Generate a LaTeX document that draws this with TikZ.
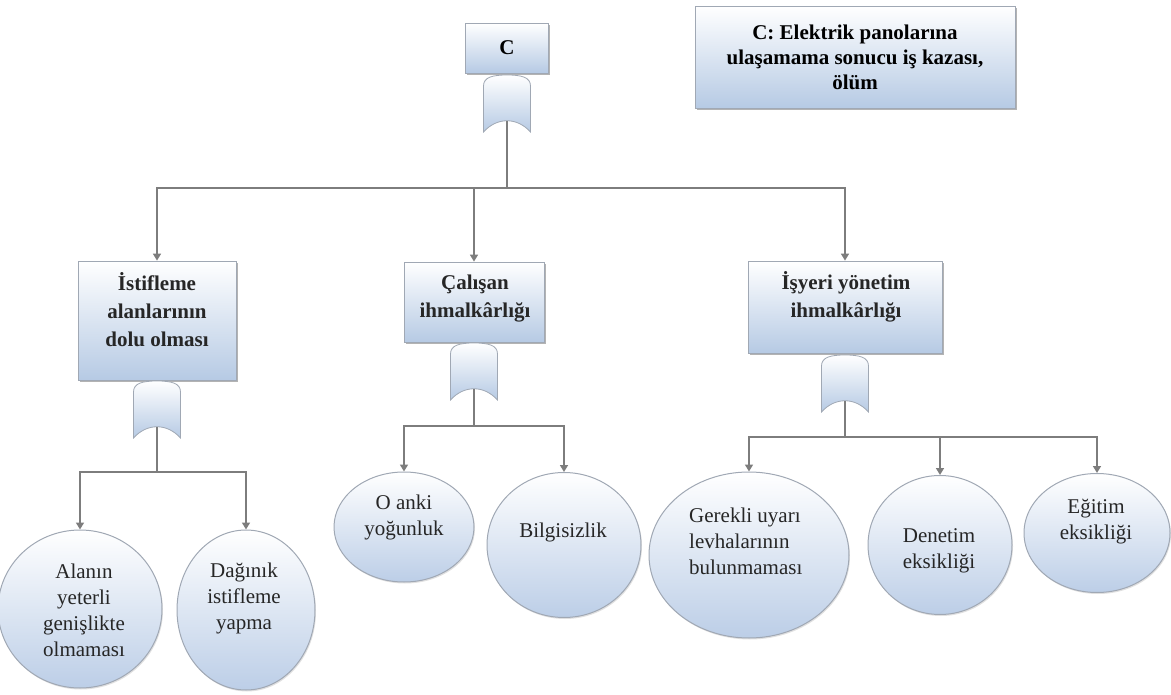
\documentclass[tikz,border=0pt]{standalone}
\usepackage{fontspec}
\setmainfont{Liberation Serif}
\usetikzlibrary{shapes.geometric,arrows.meta,shadows,calc}

\definecolor{linegray}{RGB}{125,125,125}
\definecolor{boxblue}{RGB}{182,202,228}
\definecolor{boxedge}{RGB}{160,168,180}
\definecolor{ellblue}{RGB}{188,206,231}

\tikzset{
  conn/.style={draw=linegray, line width=1.6pt},
  arr/.style={conn, -{Triangle[width=8pt,length=7pt]}},
  eventbox/.style={rectangle, draw=boxedge, line width=0.8pt, top color=white,
    bottom color=boxblue, inner sep=0pt,
    drop shadow={shadow xshift=1.5pt, shadow yshift=-2pt, fill=black!50, opacity=0.6}},
  cause/.style={ellipse, draw=boxedge, line width=1pt, top color=white,
    bottom color=ellblue, inner sep=0pt,
    drop shadow={shadow xshift=1pt, shadow yshift=-1.5pt, fill=black!30, opacity=0.4}},
  boxtext/.style={font=\fontsize{21}{28}\selectfont\bfseries, align=center,
    text=black!85, inner sep=0pt},
  elltext/.style={font=\fontsize{21}{26}\selectfont, align=center,
    text=black!85, inner sep=0pt},
  orgate/.pic={
    \path[draw=boxedge, line width=0.8pt, top color=white, bottom color=boxblue]
      (-23.5,57) -- (-23.5,11)
      .. controls (-23.5,2) and (-14,0) .. (0,0)
      .. controls (14,0) and (23.5,2) .. (23.5,11)
      -- (23.5,57)
      .. controls (10,42) and (-10,42) .. (-23.5,57) -- cycle;
    \coordinate (-bot) at (0,46);
  }
}

\begin{document}
\begin{tikzpicture}[x=1pt, y=-1pt]
\useasboundingbox (0,0) rectangle (1171,695);

% top event and its legend
\node[eventbox, minimum width=83pt, minimum height=50pt,
      font=\fontsize{21}{26}\selectfont\bfseries] (top) at (507,48) {C};
\pic (gC) at (507,75) {orgate};
\node[eventbox, minimum width=320pt, minimum height=102pt,
      font=\fontsize{21}{25}\selectfont\bfseries, align=center] (legend) at (855,57)
  {C: Elektrik panolarına\\ulaşamama sonucu iş kazası,\\ölüm};

% intermediate events
\node[eventbox, minimum width=158pt, minimum height=119pt] (b1) at (157,320.5) {};
\node[boxtext] (b1t) at (157,310) {İstifleme\\alanlarının\\dolu olması};
\node[eventbox, minimum width=140pt, minimum height=80pt] (b2) at (474,302) {};
\node[boxtext] (b2t) at (475,299) {Çalışan\\ihmalkârlığı};
\node[eventbox, minimum width=194pt, minimum height=92pt] (b3) at (845,307) {};
\node[boxtext] (b3t) at (846,297) {İşyeri yönetim\\ihmalkârlığı};

\pic (g1) at (157,381) {orgate};
\pic (g2) at (474,343) {orgate};
\pic (g3) at (845,355) {orgate};

% basic causes
\node[cause, minimum width=164pt, minimum height=158pt] (e1) at (80,609) {};
\node[elltext] (e1t) at (84,610) {Alanın\\yeterli\\genişlikte\\olmaması};
\node[cause, minimum width=138pt, minimum height=160pt] (e2) at (246,610) {};
\node[elltext] (e2t) at (244,598) {Dağınık\\istifleme\\yapma};
\node[cause, minimum width=140pt, minimum height=110pt] (e3) at (404,527) {};
\node[elltext] (e3t) at (404,517) {O anki\\yoğunluk};
\node[cause, minimum width=154pt, minimum height=145pt] (e4) at (564,545) {};
\node[elltext] (e4t) at (563,532) {Bilgisizlik};
\node[cause, minimum width=200pt, minimum height=166pt] (e5) at (749,555) {};
\node[elltext, align=left, anchor=west] (e5t) at (689,541) {Gerekli uyarı\\levhalarının\\bulunmaması};
\node[cause, minimum width=144pt, minimum height=139pt] (e6) at (940,545) {};
\node[elltext] (e6t) at (939,551) {Denetim\\eksikliği};
\node[cause, minimum width=146pt, minimum height=119pt] (e7) at (1097,533) {};
\node[elltext] (e7t) at (1096,522) {Eğitim\\eksikliği};

% junction points of the branch lines
\coordinate (jC) at (507,188);
\coordinate (j1) at (157,472);
\coordinate (j2) at (474,426);
\coordinate (j3) at (845,437);

% connectors
\draw[arr] (gC-bot) -- (jC) -| (b1.north);
\draw[arr] (jC) -| (b2.north);
\draw[arr] (jC) -| (b3.north);

\draw[arr] (g1-bot) -- (j1) -| (e1.north);
\draw[arr] (j1) -| (e2.north);

\draw[arr] (g2-bot) -- (j2) -| (e3.north);
\draw[arr] (j2) -| (e4.north);

\draw[arr] (g3-bot) -- (j3) -| (e5.north);
\draw[arr] (j3) -| (e6.north);
\draw[arr] (j3) -| (e7.north);
\end{tikzpicture}
\end{document}
